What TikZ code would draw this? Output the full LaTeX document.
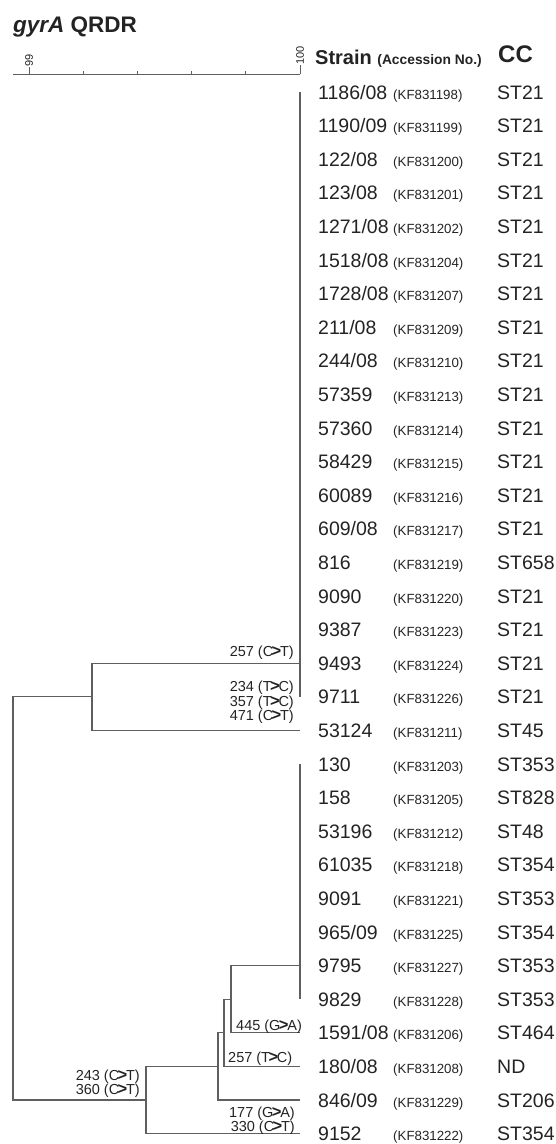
\documentclass[tikz,border=0pt]{standalone}
\usepackage{fontspec}
\setmainfont{Liberation Sans}
\usetikzlibrary{positioning}
\definecolor{treegray}{RGB}{95,95,95}
\definecolor{inkgray}{RGB}{35,35,35}
\tikzset{
  branch/.style={draw=treegray, line width=1.3pt},
  tick/.style={draw=treegray, line width=0.9pt},
  strain/.style={inner sep=0pt, anchor=base west, text=inkgray, font=\fontsize{19.5}{20}\selectfont},
  accno/.style={inner sep=0pt, anchor=base west, text=inkgray, font=\fontsize{13.3}{14}\selectfont},
  cctype/.style={inner sep=0pt, anchor=base west, text=inkgray, font=\fontsize{19.5}{20}\selectfont},
  mut/.style={inner sep=0pt, text=inkgray, align=right, font=\fontsize{14.5}{14.5}\selectfont},
  scalelbl/.style={inner sep=0pt, rotate=90, anchor=west, text=inkgray, font=\fontsize{11}{11}\selectfont},
}
\newcommand{\mutsub}[2]{#1\kern-1.6pt{\fontsize{16.5}{14.5}\selectfont\bfseries >}\kern-1.2pt#2}

\begin{document}
\begin{tikzpicture}[x=1pt, y=-1pt]
    \useasboundingbox (0,0) rectangle (555,1144);

    % Title and header
    \node (title) [inner sep=0pt, anchor=base west, text=inkgray, font=\fontsize{22.5}{23}\selectfont\bfseries] at (13,32) {\textit{gyrA} QRDR};
    \node (hstrain) [inner sep=0pt, anchor=base west, text=inkgray, font=\fontsize{20}{20}\selectfont\bfseries] at (315,64) {Strain {\fontsize{13.8}{14}\selectfont (Accession No.)}};
    \node (hcc) [inner sep=0pt, anchor=base west, text=inkgray, font=\fontsize{24}{24}\selectfont\bfseries] at (498,62) {CC};

    % Scale bar
    \coordinate (sbl) at (13,74);
    \coordinate (sbr) at (300,74);
    \draw [tick] (sbl) -- (sbr);
    \foreach \k in {1,...,4}
        \draw [tick] ({29+54.2*\k},74) -- ++(0,-3);
    \draw [tick] (29,74) -- (29,67) coordinate (tk99);
    \draw [tick] (sbr) -- (300,65) coordinate (tk100);
    \node (l99) [scalelbl] at (tk99) {99};
    \node (l100) [scalelbl] at (tk100) {100};

    % Strains
    \foreach \nm/\acc/\cc [count=\i from 0] in {
        {1186/08}/KF831198/ST21, {1190/09}/KF831199/ST21, {122/08}/KF831200/ST21,
        {123/08}/KF831201/ST21, {1271/08}/KF831202/ST21, {1518/08}/KF831204/ST21,
        {1728/08}/KF831207/ST21, {211/08}/KF831209/ST21, {244/08}/KF831210/ST21,
        57359/KF831213/ST21, 57360/KF831214/ST21, 58429/KF831215/ST21,
        60089/KF831216/ST21, {609/08}/KF831217/ST21, 816/KF831219/ST658,
        9090/KF831220/ST21, 9387/KF831223/ST21, 9493/KF831224/ST21,
        9711/KF831226/ST21, 53124/KF831211/ST45, 130/KF831203/ST353,
        158/KF831205/ST828, 53196/KF831212/ST48, 61035/KF831218/ST354,
        9091/KF831221/ST353, {965/09}/KF831225/ST354, 9795/KF831227/ST353,
        9829/KF831228/ST353, {1591/08}/KF831206/ST464, {180/08}/KF831208/ND,
        {846/09}/KF831229/ST206, 9152/KF831222/ST354}
    {
        \coordinate (t\i) at (300,{92+33.6*\i});
        \node (s\i) [strain] at (318,{99+33.6*\i}) {\nm};
        \node (a\i) [accno] at (393,{99+33.6*\i}) {(\acc)};
        \node (c\i) [cctype] at (497,{99+33.6*\i}) {\cc};
    }

    % Inner nodes of the tree
    \coordinate (n1) at (92,{92+33.6*18});
    \coordinate (n2) at (231,{92+33.6*27});
    \coordinate (n3) at (224,{92+33.6*28});
    \coordinate (n4) at (218,{92+33.6*29});
    \coordinate (n5) at (146,{92+33.6*30});
    \coordinate (root) at (13,{92+33.6*24});

    % Branches
    \draw [branch] (t0) -- (t18);
    \draw [branch] (t20) -- (t27);
    \draw [branch] (t17) -| (n1) |- (t19);
    \draw [branch] (t26) -| (n2) |- (t28);
    \draw [branch] (n2) -| (n3) |- (t29);
    \draw [branch] (n3) -| (n4) |- (t30);
    \draw [branch] (n4) -| (n5) |- (t31);
    \draw [branch] (n1) -| (root) |- (n5);

    % Substitutions
    \node (m1) [mut, anchor=south east] at (294,660) {257 (\mutsub{C}{T})};
    \node (m2) [mut, anchor=south east] at (294,724) {234 (\mutsub{T}{C})\\357 (\mutsub{T}{C})\\471 (\mutsub{C}{T})};
    \node (m3) [mut, anchor=south west] at (236,1034) {445 (\mutsub{G}{A})};
    \node (m4) [mut, anchor=south west] at (228,1066) {257 (\mutsub{T}{C})};
    \node (m5) [mut, anchor=south east] at (295,1135) {177 (\mutsub{G}{A})\\330 (\mutsub{C}{T})};
    \node (m6) [mut, anchor=south east] at (140,1098) {243 (\mutsub{C}{T})\\360 (\mutsub{C}{T})};
\end{tikzpicture}
\end{document}
